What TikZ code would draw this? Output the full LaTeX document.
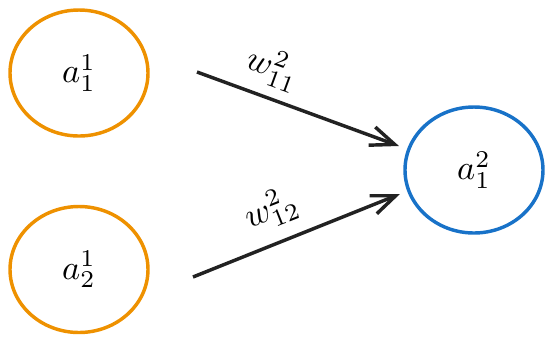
\documentclass[tikz,border=0pt]{standalone}
\usetikzlibrary{arrows.meta,shapes.geometric}
\definecolor{nodeorange}{RGB}{238,145,0}
\definecolor{nodeblue}{RGB}{24,114,200}
\definecolor{arrowgray}{RGB}{34,34,34}
\begin{document}
\begin{tikzpicture}[x=0.29pt,y=-0.29pt,
  neuron/.style={draw, ellipse, line width=1pt, minimum width=138*0.29pt, minimum height=126*0.29pt, inner sep=0pt},
  inneuron/.style={neuron, draw=nodeorange},
  outneuron/.style={neuron, draw=nodeblue},
  conn/.style={draw=arrowgray, line width=1pt, -{Straight Barb[length=7pt,width=5.6pt,line width=1pt]}},
  wlabel/.style={inner sep=0pt}]
\useasboundingbox (0,0) rectangle (553,342);
\node[inneuron] (a11) at (79,73) {$a_1^1$};
\node[inneuron] (a12) at (79,269.5) {$a_2^1$};
\node[outneuron] (a21) at (474,170) {$a_1^2$};
\coordinate (s1) at (197,72);
\coordinate (e1) at (399,146);
\coordinate (s2) at (193,277);
\coordinate (e2) at (400,194);
\draw[conn] (s1) -- (e1);
\draw[conn] (s2) -- (e2);
\node[wlabel, rotate=-20] (w11) at (273,68) {$w_{11}^2$};
\node[wlabel, rotate=21.5] (w12) at (271,210) {$w_{12}^2$};
\end{tikzpicture}
\end{document}
